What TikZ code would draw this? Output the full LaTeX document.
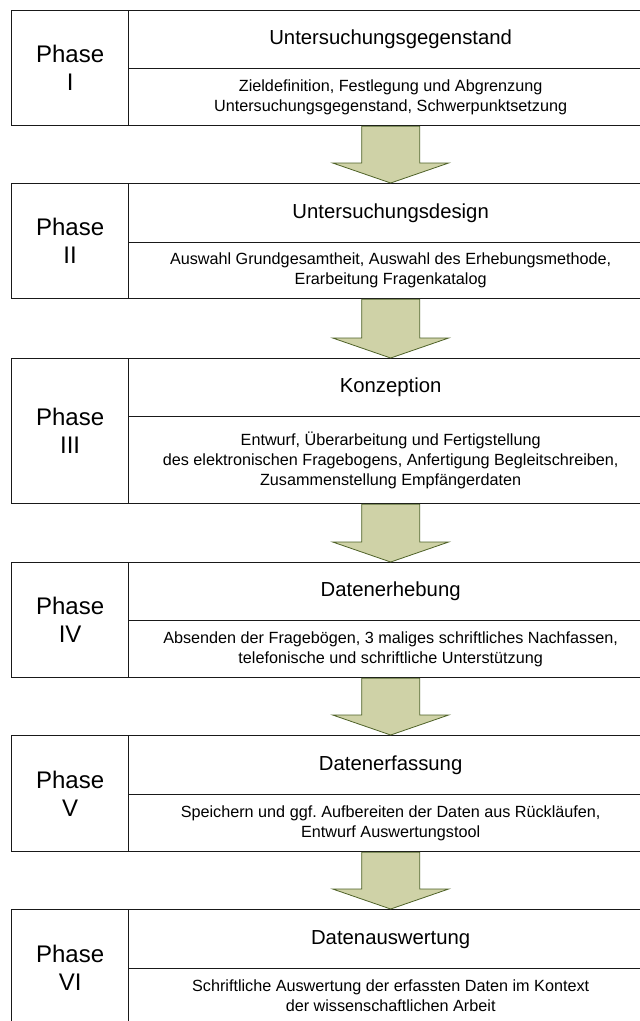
\documentclass[tikz,border=0pt]{standalone}
\usepackage{fontspec}
\setmainfont{Liberation Sans}
\usetikzlibrary{calc}

\definecolor{arrowfill}{RGB}{207,210,167}
\definecolor{arrowline}{RGB}{79,98,40}
\definecolor{boxline}{RGB}{25,25,25}

\tikzset{
  cell/.style={draw=boxline, line width=1.3pt, inner sep=0pt, align=center, anchor=north west},
  phasecell/.style={cell, minimum width=117pt, font=\fontsize{24}{28}\selectfont},
  titlecell/.style={cell, minimum width=524pt, font=\fontsize{20.3}{24}\selectfont},
  desccell/.style={cell, minimum width=524pt, font=\fontsize{16.2}{20}\selectfont},
  blockarrow/.style={fill=arrowfill, draw=arrowline, line width=0.8pt, line join=miter}
}

% block arrow from the bottom of one phase to the top of the next
\newcommand{\phasearrow}[2]{%
  \draw[blockarrow]
    ($(#1.south)+(-29,0)$) -- ($(#2.north)+(-29,-20)$) -- ($(#2.north)+(-58,-20)$)
    -- (#2.north) -- ($(#2.north)+(58,-20)$) -- ($(#2.north)+(29,-20)$)
    -- ($(#1.south)+(29,0)$) -- cycle;}

\frenchspacing
\begin{document}
\begin{tikzpicture}[x=1pt, y=-1pt]
\useasboundingbox (0,0) rectangle (640,1021);

% Phase I
\node[phasecell, minimum height=115pt] (p1) at (11,10) {Phase\\I};
\node[titlecell, minimum height=58pt] (t1) at (128,10) {Untersuchungsgegenstand};
\node[desccell, minimum height=57pt] (d1) at (128,68)
  {Zieldefinition, Festlegung und Abgrenzung\\Untersuchungsgegenstand, Schwerpunktsetzung};

% Phase II
\node[phasecell, minimum height=115pt] (p2) at (11,183) {Phase\\II};
\node[titlecell, minimum height=59pt] (t2) at (128,183) {Untersuchungsdesign};
\node[desccell, minimum height=56pt] (d2) at (128,242)
  {Auswahl Grundgesamtheit, Auswahl des Erhebungsmethode,\\Erarbeitung Fragenkatalog};

% Phase III
\node[phasecell, minimum height=145pt] (p3) at (11,358) {Phase\\III};
\node[titlecell, minimum height=58pt] (t3) at (128,358) {Konzeption};
\node[desccell, minimum height=87pt] (d3) at (128,416)
  {Entwurf, Überarbeitung und Fertigstellung\\des elektronischen Fragebogens, Anfertigung Begleitschreiben,\\Zusammenstellung Empfängerdaten};

% Phase IV
\node[phasecell, minimum height=115pt] (p4) at (11,562) {Phase\\IV};
\node[titlecell, minimum height=58pt] (t4) at (128,562) {Datenerhebung};
\node[desccell, minimum height=57pt] (d4) at (128,620)
  {Absenden der Fragebögen, 3 maliges schriftliches Nachfassen,\\telefonische und schriftliche Unterstützung};

% Phase V
\node[phasecell, minimum height=116pt] (p5) at (11,735) {Phase\\V};
\node[titlecell, minimum height=59pt] (t5) at (128,735) {Datenerfassung};
\node[desccell, minimum height=57pt] (d5) at (128,794)
  {Speichern und ggf. Aufbereiten der Daten aus Rückläufen,\\Entwurf Auswertungstool};

% Phase VI
\node[phasecell, minimum height=116pt] (p6) at (11,909) {Phase\\VI};
\node[titlecell, minimum height=59pt] (t6) at (128,909) {Datenauswertung};
\node[desccell, minimum height=55pt] (d6) at (128,968)
  {Schriftliche Auswertung der erfassten Daten im Kontext\\der wissenschaftlichen Arbeit};

% arrows between the phases
\phasearrow{d1}{t2}
\phasearrow{d2}{t3}
\phasearrow{d3}{t4}
\phasearrow{d4}{t5}
\phasearrow{d5}{t6}
\end{tikzpicture}
\end{document}
